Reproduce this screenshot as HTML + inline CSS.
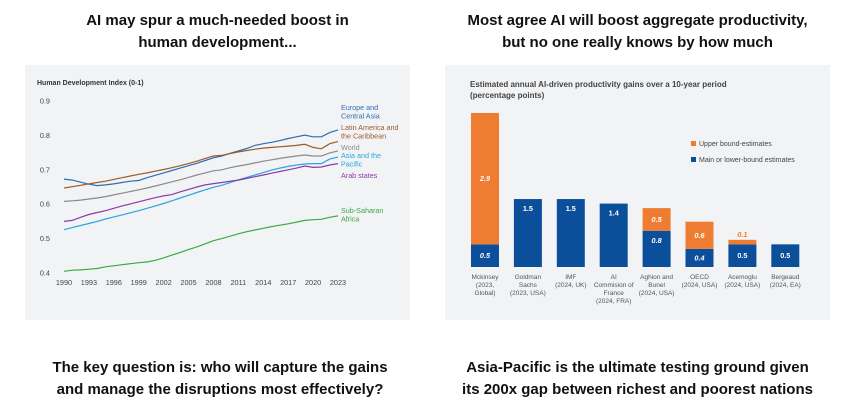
<!DOCTYPE html>
<html><head><meta charset="utf-8"><style>
body{margin:0;width:853px;height:408px;background:#fff;font-family:"Liberation Sans",Arial,sans-serif;position:relative;overflow:hidden}
.t{position:absolute;font-weight:bold;font-size:15px;color:#111;text-align:center;line-height:22px}
.panel{position:absolute;background:#f2f3f5}
svg text{font-family:"Liberation Sans",Arial,sans-serif}
</style></head><body>
<div class="t" style="left:20px;top:10px;width:395px">AI may spur a much-needed boost in<br>human development...</div>
<div class="t" style="left:440px;top:10px;width:395px">Most agree AI will boost aggregate productivity,<br>but no one really knows by how much</div>
<div class="t" style="left:10px;top:357px;width:420px">The key question is: who will capture the gains<br>and manage the disruptions most effectively?</div>
<div class="t" style="left:425px;top:357px;width:425px">Asia-Pacific is the ultimate testing ground given<br>its 200x gap between richest and poorest nations</div>
<div class="panel" style="left:25px;top:65px;width:385px;height:255px"></div>
<div class="panel" style="left:445px;top:65px;width:385px;height:255px"></div>
<svg id="left" width="853" height="408" style="position:absolute;left:0;top:0"></svg>
<svg id="right" width="853" height="408" style="position:absolute;left:0;top:0"></svg>
<script>
const years=[];for(let y=1990;y<=2023;y++)years.push(y);
const yTicks=[0.4,0.5,0.6,0.7,0.8,0.9];
const xTickYears=[1990,1993,1996,1999,2002,2005,2008,2011,2014,2017,2020,2023];
const europe=[0.673,0.670,0.664,0.658,0.654,0.656,0.659,0.663,0.667,0.669,0.677,0.684,0.691,0.698,0.705,0.712,0.719,0.727,0.735,0.740,0.748,0.755,0.762,0.771,0.776,0.780,0.785,0.791,0.796,0.801,0.796,0.796,0.808,0.816];
const latin=[0.647,0.651,0.655,0.659,0.663,0.667,0.672,0.677,0.682,0.687,0.691,0.696,0.701,0.706,0.712,0.718,0.725,0.733,0.740,0.742,0.747,0.752,0.756,0.760,0.763,0.765,0.767,0.769,0.771,0.774,0.765,0.761,0.776,0.782];
const world=[0.608,0.610,0.612,0.615,0.618,0.622,0.627,0.632,0.637,0.642,0.647,0.653,0.659,0.665,0.671,0.678,0.685,0.691,0.697,0.700,0.706,0.711,0.715,0.720,0.725,0.729,0.733,0.737,0.740,0.743,0.740,0.740,0.749,0.755];
const asia=[0.526,0.532,0.538,0.544,0.550,0.557,0.563,0.569,0.575,0.581,0.588,0.595,0.602,0.610,0.618,0.626,0.634,0.642,0.649,0.655,0.663,0.671,0.678,0.685,0.692,0.699,0.705,0.710,0.714,0.717,0.718,0.718,0.731,0.737];
const arab=[0.550,0.553,0.562,0.570,0.576,0.581,0.588,0.595,0.601,0.607,0.613,0.619,0.624,0.628,0.636,0.643,0.650,0.656,0.660,0.663,0.667,0.670,0.675,0.680,0.685,0.690,0.695,0.700,0.705,0.711,0.707,0.708,0.714,0.718];
const ssa=[0.405,0.408,0.409,0.411,0.413,0.418,0.421,0.424,0.427,0.430,0.432,0.437,0.444,0.452,0.460,0.468,0.476,0.485,0.494,0.500,0.507,0.514,0.520,0.525,0.530,0.535,0.539,0.543,0.548,0.553,0.555,0.556,0.562,0.566];
const seriesNames=["Europe and Central Asia","Latin America and the Caribbean","World","Asia and the Pacific","Arab states","Sub-Saharan Africa"];
const barCats=[["Mckinsey","(2023,","Global)"],["Goldman","Sachs","(2023, USA)"],["IMF","(2024, UK)"],["AI","Commision of","France","(2024, FRA)"],["Aghion and","Bunel","(2024, USA)"],["OECD","(2024, USA)"],["Acemoglu","(2024, USA)"],["Bergeaud","(2024, EA)"]];
const lowerVals=[0.5,1.5,1.5,1.4,0.8,0.4,0.5,0.5];
const upperVals=[2.9,0,0,0,0.5,0.6,0.1,0];
const NS="http://www.w3.org/2000/svg";
function mk(p,tag,at,txt){const e=document.createElementNS(NS,tag);for(const k in at)e.setAttribute(k,at[k]);if(txt!==undefined)e.textContent=txt;p.appendChild(e);return e;}
const L=document.getElementById('left');
const xS=y=>64+(y-1990)*(338-64)/33, yS=v=>273-(v-0.4)*344;
mk(L,'text',{x:37,y:85,'font-size':7,'font-weight':'bold',fill:'#333'},'Human Development Index (0-1)');
yTicks.forEach(t=>{const e=mk(L,'text',{x:50,y:yS(t)+2.5,'font-size':7.3,fill:'#444','text-anchor':'end'},t.toFixed(1));});
xTickYears.forEach(t=>{const e=mk(L,'text',{x:xS(t),y:285,'font-size':7.3,fill:'#444','text-anchor':'middle'},t);});
const ser=[[europe,'#2e6db4',['Europe and','Central Asia'],110],[latin,'#9a5a2c',['Latin America and','the Caribbean'],130],[world,'#8a8a8a',['World'],150],[asia,'#29a6df',['Asia and the','Pacific'],158],[arab,'#8b3ba6',['Arab states'],178],[ssa,'#3da84a',['Sub-Saharan','Africa'],213]];
ser.forEach(([d,c,lab,ly])=>{const pts=d.map((v,i)=>xS(years[i]).toFixed(1)+','+yS(v).toFixed(1)).join(' ');
const pl=mk(L,'polyline',{points:pts,fill:'none',stroke:c,'stroke-width':1.2});
lab.forEach((s,j)=>{const e=mk(L,'text',{x:341,y:ly+j*8.5,'font-size':7.2,fill:c},s);});});
const R=document.getElementById('right');
mk(R,'text',{x:470,y:87,'font-size':8,'font-weight':'bold',fill:'#444'},'Estimated annual AI-driven productivity gains over a 10-year period');
mk(R,'text',{x:470,y:98,'font-size':8,'font-weight':'bold',fill:'#444'},'(percentage points)');
const base=267,ppu=45.3,bx=i=>485+i*42.9,bw=28;
lowerVals.forEach((v,i)=>{const u=upperVals[i];
const r1=mk(R,'rect',{x:bx(i)-bw/2,y:base-v*ppu,width:bw,height:v*ppu,fill:'#0b4f9b'});
const it=(i===0||i===4||i===5)?'italic':'normal';
mk(R,'text',{x:bx(i),y:base-v*ppu/2+(v<0.6?2.5:0)+(v>=0.6?-v*ppu/2+12:0),'font-size':7.3,'font-weight':'bold','font-style':it,fill:'#fff','text-anchor':'middle'},v.toFixed(1));
if(u>0){const r2=mk(R,'rect',{x:bx(i)-bw/2,y:base-(v+u)*ppu,width:bw,height:u*ppu,fill:'#ef7d31'});
const ty=u<0.3?base-(v+u)*ppu-3:base-(v+u/2)*ppu+2.5;
mk(R,'text',{x:bx(i),y:ty,'font-size':7.3,'font-weight':'bold','font-style':'italic',fill:u<0.3?'#ef7d31':'#fff','text-anchor':'middle'},u.toFixed(1));}
barCats[i].forEach((s,j)=>{const e=mk(R,'text',{x:bx(i),y:279+j*8,'font-size':6.5,fill:'#555','text-anchor':'middle'},s);});});
mk(R,'rect',{x:691,y:141,width:5,height:5,fill:'#ef7d31'});
mk(R,'text',{x:699,y:146,'font-size':7,fill:'#444'},'Upper bound-estimates');
mk(R,'rect',{x:691,y:157,width:5,height:5,fill:'#0b4f9b'});
mk(R,'text',{x:699,y:162,'font-size':7,fill:'#444'},'Main or lower-bound estimates');
</script>
</body></html>
